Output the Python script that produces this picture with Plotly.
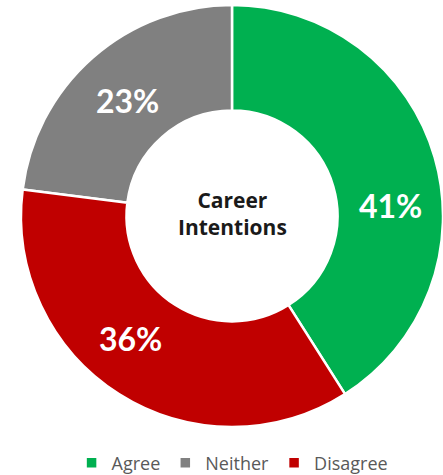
import plotly.graph_objects as go

# Survey response shares
categories = ["Agree", "Neither", "Disagree"]
shares = [41, 23, 36]
slice_colors = ["#00B050", "#808080", "#C00000"]
center_title = "Career<br>Intentions"

# label anchor points (pixels from top-left) for each slice's percentage
label_pos = [(390, 205), (127, 100), (130, 338)]
W, H = 443, 475

fig = go.Figure(
    go.Pie(
        labels=categories,
        values=shares,
        sort=False,
        direction="counterclockwise",
        rotation=0,
        hole=0.5,
        marker=dict(colors=slice_colors, line=dict(color="white", width=2.5)),
        textinfo="none",
        hoverinfo="label+percent",
        domain=dict(x=[0.0474, 1.0], y=[0.1011, 0.9895]),
    )
)

total = sum(shares)
annotations = []
for v, (px, py) in zip(shares, label_pos):
    annotations.append(dict(
        x=px / W, y=1 - py / H, xref="paper", yref="paper",
        text=f"<b>{round(v / total * 100)}%</b>", showarrow=False,
        font=dict(family="Lato", size=32, color="white"),
        xanchor="center", yanchor="middle",
    ))
annotations.append(dict(
    x=232 / W, y=1 - 213 / H, xref="paper", yref="paper",
    text=f"<b>{center_title}</b>", showarrow=False,
    font=dict(family="Open Sans", size=21, color="#1a1a1a"),
    xanchor="center", yanchor="middle",
))

fig.update_layout(
    width=W, height=H,
    margin=dict(l=0, r=0, t=0, b=0, autoexpand=False),
    paper_bgcolor="white", plot_bgcolor="white",
    annotations=annotations,
    showlegend=True,
    legend=dict(
        orientation="h", x=0.525, xanchor="center", y=1 - 463 / H, yanchor="middle",
        font=dict(family="Open Sans", size=18, color="#595959"),
        traceorder="normal",
    ),
)

fig.write_html("out.html")
